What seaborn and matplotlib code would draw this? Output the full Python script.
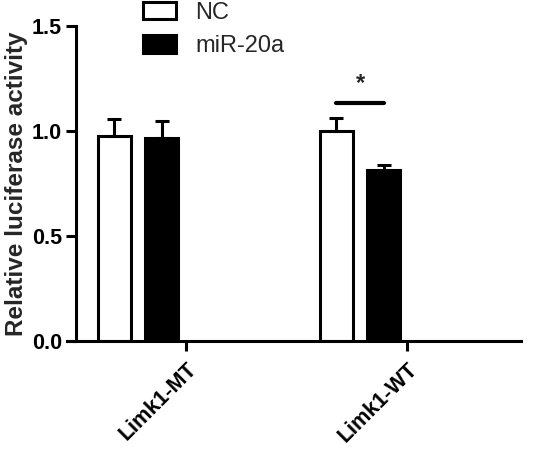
import matplotlib
matplotlib.use("Agg")
import matplotlib.pyplot as plt
import seaborn as sns
import pandas as pd

# ---- data ----
constructs = ["Limk1-MT", "Limk1-WT"]
groups = ["NC", "miR-20a"]
nc_mean = [0.976, 1.000]
nc_err = [0.079, 0.062]
mir_mean = [0.965, 0.814]
mir_err = [0.084, 0.024]
sig_y = 1.133
ylabel = "Relative luciferase activity"
yticks = [0.0, 0.5, 1.0, 1.5]

df = pd.DataFrame({
    "construct": constructs * 2,
    "group": [groups[0]] * 2 + [groups[1]] * 2,
    "value": nc_mean + mir_mean,
})
errs = {groups[0]: nc_err, groups[1]: mir_err}

sns.set_theme(style="ticks")
plt.rcParams["font.family"] = ["Liberation Sans", "DejaVu Sans"]

fig = plt.figure(figsize=(5.5, 4.63), dpi=100)
ax = fig.add_axes([67 / 550, 1 - 341 / 463, (521 - 67) / 550, (341 - 26) / 463])

lw = 2.2
sns.barplot(data=df, x="construct", y="value", hue="group", order=constructs,
            hue_order=groups, palette={"NC": "white", "miR-20a": "black"},
            edgecolor="black", linewidth=lw, width=0.43, gap=0.31,
            errorbar=None, ax=ax, legend=True)

centers = {}
for cont, g in zip(ax.containers, groups):
    xs = [p.get_x() + p.get_width() / 2 for p in cont]
    centers[g] = xs
    vals = [p.get_height() for p in cont]
    ax.errorbar(xs, vals, yerr=[[0] * len(vals), errs[g]], fmt="none",
                ecolor="black", elinewidth=lw, capsize=5, capthick=lw, zorder=1)

# significance marker
x1 = centers[groups[0]][1]
x2 = centers[groups[1]][1]
ax.plot([x1, x2], [sig_y, sig_y], color="black", lw=3, solid_capstyle="round")
ax.text((x1 + x2) / 2, sig_y + 0.04, "*", ha="center", va="bottom",
        fontsize=17, fontweight="bold")

# spines first (set_position resets tick formatting)
sns.despine(ax=ax)
ax.spines["left"].set_position(("data", -0.279))
for s in ["left", "bottom"]:
    ax.spines[s].set_linewidth(lw)
    ax.spines[s].set_color("black")

ax.set_ylim(0, 1.5)
ax.set_xlim(-0.32, 1.725)
ax.spines["left"].set_bounds(0, 1.5)
ax.set_yticks(yticks)
ax.set_yticklabels([f"{v:.1f}" for v in yticks], fontsize=15.5, fontweight="bold")
ax.set_xticks([0.216, 1.21])
ax.set_xticklabels(constructs, rotation=45, ha="right", rotation_mode="anchor",
                   fontsize=15.5, fontweight="bold")
ax.set_xlabel("")
ax.set_ylabel(ylabel, fontsize=17.5, fontweight="bold", labelpad=3)

ax.tick_params(axis="both", width=lw, length=7, color="black", labelcolor="black")
ax.tick_params(axis="y", pad=3)
ax.tick_params(axis="x", pad=6)

handles, labels = ax.get_legend_handles_labels()
ax.legend(handles, labels, loc="center left", bbox_to_anchor=(143 / 550, 1 - 29.5 / 463),
          bbox_transform=fig.transFigure, frameon=False, fontsize=17,
          borderpad=0, borderaxespad=0,
          handlelength=1.4, handleheight=0.76, handletextpad=0.8, labelspacing=0.48)

fig.savefig("out.png", dpi=100)
